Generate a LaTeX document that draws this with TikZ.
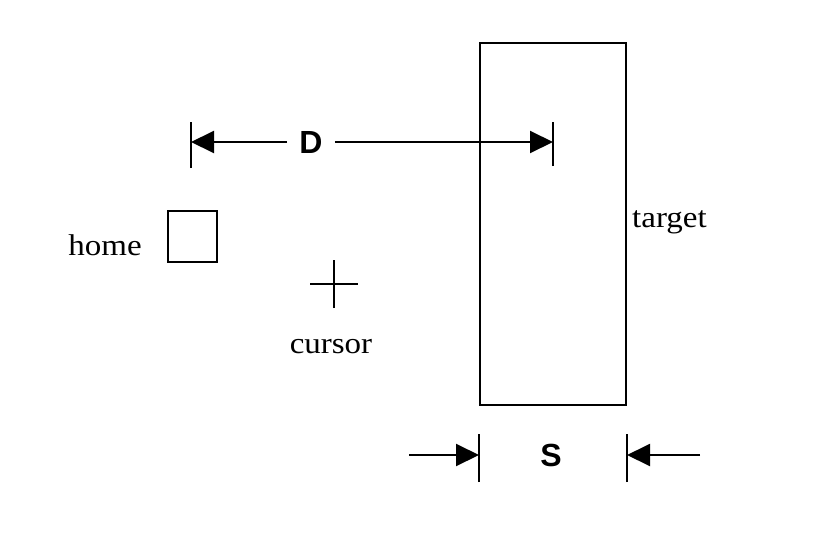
\documentclass[tikz,border=0pt]{standalone}
\usepackage{fontspec}
\setmainfont{Liberation Serif}
\newfontfamily\lblfont[FakeStretch=1.1]{Liberation Serif}
\newfontfamily\dimfont{Liberation Sans}
\usetikzlibrary{arrows.meta}
\begin{document}
\begin{tikzpicture}[x=1pt,y=-1pt,
  outline/.style={draw=black,line width=2pt,inner sep=0pt},
  lbl/.style={inner sep=0pt,font=\lblfont\fontsize{30}{36}\selectfont},
  dimlbl/.style={inner sep=0pt,font=\dimfont\bfseries\fontsize{32}{38}\selectfont},
  dimline/.style={line width=2pt,-{Triangle[length=23pt,width=22pt]}},
  tick/.style={line width=2pt}]
  % canvas
  \fill[white] (0,0) rectangle (816,541);
  \useasboundingbox (0,0) rectangle (816,541);

  % target strip and home box
  \node[outline,minimum width=146pt,minimum height=362pt] (target) at (553,224) {};
  \node[outline,minimum width=49pt,minimum height=51pt] (home) at (192.5,236.5) {};

  % cursor cross
  \coordinate (cur) at (334,284);
  \draw[tick] ([xshift=-24pt]cur) -- ([xshift=24pt]cur);
  \draw[tick] ([yshift=-24pt]cur) -- ([yshift=24pt]cur);

  % labels
  \node[lbl,anchor=base] (homelbl) at (105,255) {home};
  \node[lbl,anchor=base] (curlbl) at (331,353) {cursor};
  \node[lbl,anchor=base west] (targetlbl) at (632,227) {target};

  % distance D: from home to target centre
  \coordinate (d0) at (191,142);
  \coordinate (d1) at (target.center |- d0);
  \node[dimlbl,inner xsep=12pt] (D) at (311,142) {D};
  \draw[tick] ([yshift=-26pt]d0) -- ([yshift=20pt]d0);
  \draw[tick] ([yshift=-24pt]d1) -- ([yshift=20pt]d1);
  \draw[dimline] (D.west) -- (d0);
  \draw[dimline] (D.east) -- (d1);

  % width S of the target
  \coordinate (s0) at (target.west |- 0,455);
  \coordinate (s1) at (target.east |- 0,455);
  \coordinate (sa) at (409,455);
  \coordinate (sb) at (700,455);
  \node[dimlbl] (S) at (551,455) {S};
  \draw[tick] ([yshift=-27pt]s0) -- ([yshift=21pt]s0);
  \draw[tick] ([yshift=-27pt]s1) -- ([yshift=21pt]s1);
  \draw[dimline] (sa) -- (s0);
  \draw[dimline] (sb) -- (s1);
\end{tikzpicture}
\end{document}
